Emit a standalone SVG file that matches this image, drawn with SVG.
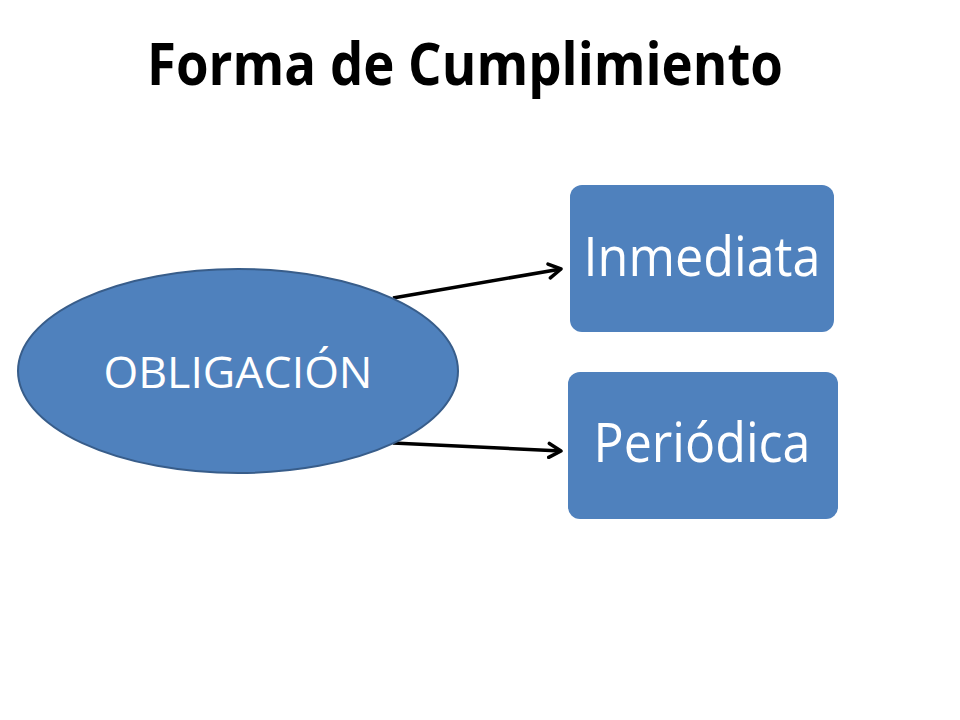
<svg xmlns="http://www.w3.org/2000/svg" width="960" height="720" viewBox="0 0 960 720">
<style>
.node{fill:#4f81bd}
.lbl{fill:#ffffff;font-family:"Open Sans","Liberation Sans",sans-serif;text-anchor:middle}
.conn{stroke:#000000;stroke-width:3.5;fill:none;marker-end:url(#arr)}
.title{fill:#000000;font-family:"Open Sans","Liberation Sans",sans-serif;font-weight:bold;font-size:59px}
</style>
<defs>
<marker id="arr" markerWidth="18" markerHeight="18" refX="14" refY="9" orient="auto" markerUnits="userSpaceOnUse">
<path d="M2,2 L14,9 L2,16" fill="none" stroke="#000000" stroke-width="3.5" stroke-linecap="round" stroke-linejoin="round"/>
</marker>
</defs>
<rect width="960" height="720" fill="#ffffff"/>
<text class="title" x="147" y="85" textLength="636" lengthAdjust="spacingAndGlyphs">Forma de Cumplimiento</text>
<g id="connectors">
<line class="conn" x1="393" y1="298" x2="561" y2="269"/>
<line class="conn" x1="393" y1="443" x2="561" y2="451"/>
</g>
<g id="obligacion">
<ellipse cx="238" cy="371" rx="220" ry="102" fill="#4f81bd" stroke="#385d8a" stroke-width="2"/>
<text class="lbl" x="238" y="388" font-size="43" textLength="269" lengthAdjust="spacingAndGlyphs">OBLIGACIÓN</text>
</g>
<g id="inmediata">
<rect class="node" x="570" y="185" width="264" height="147" rx="12"/>
<text class="lbl" x="702" y="276" font-size="55" textLength="237" lengthAdjust="spacingAndGlyphs">Inmediata</text>
</g>
<g id="periodica">
<rect class="node" x="568" y="372" width="270" height="147" rx="12"/>
<text class="lbl" x="702" y="462" font-size="55" textLength="217" lengthAdjust="spacingAndGlyphs">Periódica</text>
</g>
</svg>
